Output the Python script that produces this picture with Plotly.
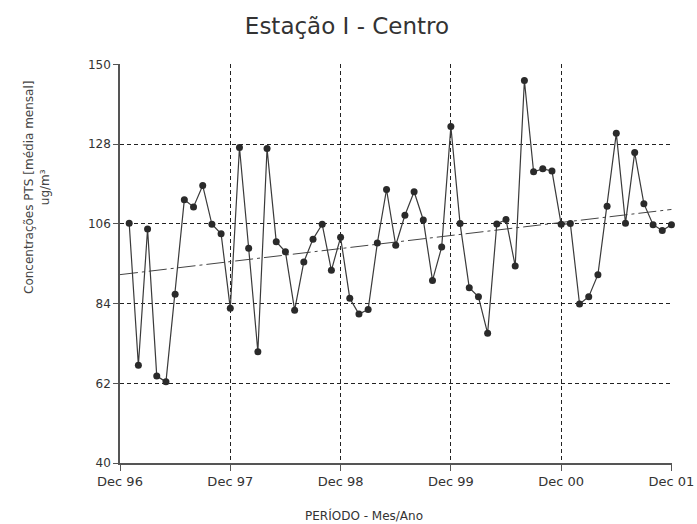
import plotly.graph_objects as go

# Monthly means, Jan 97 .. Dec 01 (month index 1..60, Dec 96 = 0)
months = list(range(1, 61))
values = [
    106.2, 67.0, 104.6, 64.0, 62.4, 86.6, 112.7, 110.7, 116.6, 105.9, 103.3, 82.7,
    127.1, 99.3, 70.7, 126.8, 101.1, 98.3, 82.2, 95.5, 101.8, 105.9, 93.2, 102.3,
    85.5, 81.1, 82.4, 100.7, 115.5, 100.1, 108.4, 114.9, 107.1, 90.4, 99.6, 132.9,
    106.1, 88.4, 85.9, 75.8, 106.0, 107.2, 94.4, 145.6, 120.4, 121.2, 120.6, 105.9,
    106.1, 83.9, 85.9, 92.0, 110.9, 131.0, 106.2, 125.7, 111.6, 105.8, 104.2, 105.8,
]
trend_x = [0, 60]
trend_values = [92.0, 110.0]

tick_months = [0, 12, 24, 36, 48, 60]
tick_labels = ["Dec 96", "Dec 97", "Dec 98", "Dec 99", "Dec 00", "Dec 01"]
y_ticks = [40, 62, 84, 106, 128, 150]

FONT = "DejaVu Sans, Verdana, sans-serif"
W, H = 697, 524
L, T, R, B = 120, 64, 25, 61
PW, PH = W - L - R, H - T - B


def px(xs):   # screen x -> paper x
    return (xs - L) / PW


def py(ys):   # screen y -> paper y
    return (H - B - ys) / PH


fig = go.Figure()
fig.add_trace(go.Scatter(
    x=trend_x, y=trend_values, mode="lines",
    line=dict(color="#444444", width=1, dash="18px,4px,3px,4px"),
    hoverinfo="skip", showlegend=False,
))
fig.add_trace(go.Scatter(
    x=months, y=values, mode="lines+markers",
    line=dict(color="#3a3a3a", width=1.2),
    marker=dict(color="#2a2a2a", size=7),
    showlegend=False, cliponaxis=False,
))

fig.update_layout(
    width=W, height=H,
    margin=dict(l=L, r=R, t=T, b=B, autoexpand=False),
    paper_bgcolor="white", plot_bgcolor="white",
    font=dict(family=FONT, color="#333333", size=12),
    title=dict(text="Estação I - Centro", x=347 / W, xanchor="center",
               y=1 - 26 / H, yanchor="middle",
               font=dict(size=23, color="#333333", family=FONT)),
    xaxis=dict(
        range=[0, 60.06], tickmode="array", tickvals=tick_months, ticktext=tick_labels,
        showgrid=True, gridcolor="#222222", griddash="4px,3px", gridwidth=1,
        showline=True, linecolor="#555555", linewidth=1.5,
        ticks="outside", ticklen=6, tickcolor="#555555",
        zeroline=False, tickfont=dict(size=13, color="#333333"),
        ticklabeloverflow="allow", automargin=False,
    ),
    yaxis=dict(
        range=[40, 150.15], tickmode="array", tickvals=y_ticks,
        showgrid=True, gridcolor="#222222", griddash="4px,3px", gridwidth=1,
        showline=True, linecolor="#555555", linewidth=1.5,
        ticks="outside", ticklen=5, tickcolor="#555555",
        zeroline=False, tickfont=dict(size=12, color="#333333"),
        automargin=False,
    ),
    annotations=[
        dict(text="Concentrações PTS [média mensal]<br>ug/m³", textangle=-90,
             xref="paper", yref="paper", x=px(37), y=py(188),
             xanchor="center", yanchor="middle", showarrow=False,
             font=dict(size=12, color="#444444", family=FONT)),
        dict(text="PERÍODO - Mes/Ano",
             xref="paper", yref="paper", x=px(364), y=py(515),
             xanchor="center", yanchor="middle", showarrow=False,
             font=dict(size=12, color="#333333", family=FONT)),
    ],
)

fig.write_html(
    "out.html",
    config={"displayModeBar": False},
    post_script=(
        "document.documentElement.style.overflow='hidden';"
        "document.body.style.margin='0';"
        "document.body.style.overflow='hidden';"
    ),
)
